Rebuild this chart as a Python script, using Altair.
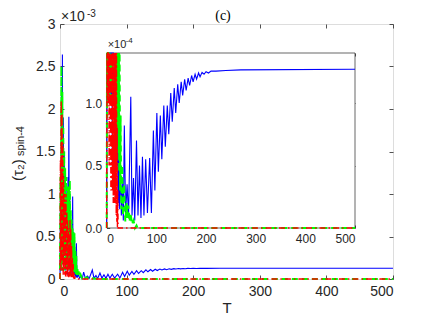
import altair as alt
import pandas as pd

# ---------------- data (values in units of 1e-4) ----------------
blue_T = [0, 0.8, 1.5, 2.3, 3.0, 3.6, 4.3, 5.0, 5.7, 6.4,
          7.1, 7.8, 8.5, 9.2, 9.9, 10.6, 11.3, 12.0, 12.6, 13.3,
          14.0, 14.7, 15.4, 16.1, 16.8, 17.5, 18.2, 19.0, 19.7, 20.4,
          21.1, 21.8, 22.5, 23.2, 24.0, 24.6, 25.5, 27.5, 29.5, 31.5,
          33.5, 35.5, 38, 41, 44, 48.5, 51, 54, 56.5, 60,
          63, 66, 69, 72, 75, 78.5, 82, 86.5, 90, 94,
          97, 101, 104, 108, 111, 115, 118, 122, 125, 129,
          132, 136, 139, 143, 146, 150, 153, 157, 160, 164,
          167, 171, 174, 178, 181, 185, 188, 192, 196, 200,
          205, 210, 220, 240, 270, 500]
blue_V = [0, 12, 1, 22, 3, 26.4, 2, 19, 1, 15,
          3, 13, 1, 11, 2, 9, 0.5, 12, 2, 19.1,
          1, 10, 1, 7, 0.5, 6, 1, 9.7, 0.5, 5.5,
          0.5, 4.5, 0.3, 3.0, 0.2, 4.2, 0.15, 0.5, 0.1, 0.36,
          0.06, 0.82, 0.1, 0.35, 0.1, 1.05, 0.1, 0.4, 0.06, 0.70,
          0.1, 0.5, 0.08, 0.57, 0.1, 0.55, 0.12, 0.56, 0.12, 0.78,
          0.30, 0.92, 0.45, 0.90, 0.55, 0.98, 0.65, 0.98, 0.75, 1.08,
          0.85, 1.12, 0.92, 1.15, 1.00, 1.17, 1.06, 1.19, 1.10, 1.20,
          1.14, 1.22, 1.17, 1.23, 1.19, 1.24, 1.21, 1.245, 1.23, 1.25,
          1.24, 1.255, 1.255, 1.26, 1.265, 1.27]

green_T = [0, 0.7, 1.4, 2.1, 2.8, 3.5, 4.2, 4.9, 5.6, 6.3,
           7.0, 7.7, 8.4, 9.1, 9.8, 10.5, 11.2, 11.9, 12.6, 13.3,
           14.0, 14.7, 15.4, 16.1, 16.8, 17.5, 18.2, 18.9, 19.6, 20.3,
           21.0, 21.7, 22.4, 23.1, 23.8, 24.5, 25.2, 26, 27, 28,
           29.5, 31, 33, 35, 37.5, 40, 42, 43.5, 46, 48,
           51, 54, 57, 60, 62, 500]
green_V = [0, 12, 1, 25, 2, 22, 1, 18, 2, 15,
           1, 13, 2, 12, 1, 10, 1.5, 11, 2, 10.5,
           1, 11.6, 2, 8.1, 1, 7, 1.5, 6, 0.8, 5.5,
           1.0, 5.4, 0.8, 3.5, 0.6, 2.7, 0.45, 1.4, 0.3, 0.9,
           0.15, 0.5, 0.1, 0.35, 0.05, 0.2, 0.08, 0.18, 0.05, 0.12,
           0.03, 0.06, 0, 0.02, 0, 0]

red_T = [0, 0.6, 1.2, 1.8, 2.4, 3.0, 3.6, 4.2, 4.8, 5.4,
         6.0, 6.6, 7.2, 7.8, 8.4, 9.0, 9.6, 10.2, 10.8, 11.4,
         12.0, 12.6, 13.2, 13.8, 14.4, 15.0, 15.6, 16.2, 16.8, 17.4,
         18.0, 18.6, 19.2, 19.8, 20.4, 21.0, 21.6, 22.2, 23, 500]
red_V = [0, 14, 1, 21, 2, 19.5, 1, 16, 0.5, 12,
         1, 10, 0.5, 9, 0.3, 10, 0.5, 8, 0.3, 7,
         0.3, 6, 0.2, 5, 0.3, 7, 0.2, 6, 0.2, 4,
         0.2, 2.5, 0.1, 1.8, 0.05, 0.8, 0, 0.3, 0, 0]

x_ticks = [0, 100, 200, 300, 400, 500]
main_y_ticks = [0, 5, 10, 15, 20, 25, 30]
inset_y_ticks = [0, 0.5, 1]

# ---------------- layout ----------------
W, H = 333, 255
IX0, IX1 = 46.7, 295
IY0, IY1 = 204, 29
FONT = "Liberation Sans"
AX = "#262626"

blue_df = pd.DataFrame({"T": blue_T, "v": blue_V})
green_df = pd.DataFrame({"T": green_T, "v": green_V})
red_df = pd.DataFrame({"T": red_T, "v": red_V})
dummy = pd.DataFrame({"T": [0], "v": [0]})
frame_df = pd.DataFrame({"x0": [0], "x1": [500], "y0": [0], "y1": [1.4]})


def MX():
    return alt.Scale(domain=[0, 500], nice=False, zero=False)


def MY():
    return alt.Scale(domain=[0, 30], nice=False)


def IXs():
    return alt.Scale(domain=[0, 500], range=[IX0, IX1], nice=False, zero=False)


def IYs():
    return alt.Scale(domain=[0, 1.4], range=[IY0, IY1], nice=False, clamp=True)


def tick_axis(orient, values, offset, size):
    return alt.Axis(orient=orient, values=values, offset=offset, labels=False,
                    domain=False, grid=False, ticks=True, tickSize=size,
                    tickColor=AX, tickWidth=0.8, title=None)


def line(df, xs, ys, color, width, dash=None, xa=None, ya=None):
    kw = dict(color=color, strokeWidth=width, clip=False)
    if dash is not None:
        kw["strokeDash"] = dash
    return alt.Chart(df).mark_line(**kw).encode(
        x=alt.X("T:Q", scale=xs, axis=xa),
        y=alt.Y("v:Q", scale=ys, axis=ya),
    )


GREEN_DASH = [6, 4]
RED_DASH = [6, 3, 1.5, 3]

main_x_axis = alt.Axis(orient="bottom", values=x_ticks, ticks=False, domain=False,
                       grid=False, labelFontSize=14, labelFont=FONT, labelColor=AX,
                       labelPadding=5, title="T", titleFontSize=15, titleFont=FONT,
                       titleFontWeight="normal", titleColor=AX, titlePadding=2)
main_y_axis = alt.Axis(orient="left", values=main_y_ticks, ticks=False, domain=False,
                       grid=False, labelFontSize=14, labelFont=FONT, labelColor=AX,
                       labelPadding=5, labelExpr="format(datum.value/10, '~g')",
                       title=None)

main_blue = line(blue_df, MX(), MY(), "#0000FF", 1.1, None, main_x_axis, main_y_axis)
main_green = line(green_df, MX(), MY(), "#00FF00", 2, GREEN_DASH)
main_red = line(red_df, MX(), MY(), "#FF0000", 1.4, RED_DASH)

main_ticks_bl = alt.Chart(dummy).mark_point(opacity=0).encode(
    x=alt.X("T:Q", scale=MX(), axis=tick_axis("bottom", x_ticks, -4, 4)),
    y=alt.Y("v:Q", scale=MY(), axis=tick_axis("left", main_y_ticks, -4, 4)),
)
main_ticks_tr = alt.Chart(dummy).mark_point(opacity=0).encode(
    x=alt.X("T:Q", scale=MX(), axis=tick_axis("top", x_ticks, -4, 4)),
    y=alt.Y("v:Q", scale=MY(), axis=tick_axis("right", main_y_ticks, -4, 4)),
)

inset_bg = alt.Chart(frame_df).mark_rect(fill="white", stroke=AX, strokeWidth=0.7).encode(
    x=alt.X("x0:Q", scale=IXs(), axis=None),
    x2="x1:Q",
    y=alt.Y("y0:Q", scale=IYs(), axis=None),
    y2="y1:Q",
)

inset_x_axis = alt.Axis(orient="bottom", values=x_ticks, offset=-(H - IY0), ticks=False,
                        domain=False, grid=False, labelFontSize=12, labelFont=FONT,
                        labelColor=AX, labelPadding=5, title=None)
inset_y_axis = alt.Axis(orient="left", values=inset_y_ticks, offset=-IX0, ticks=False,
                        domain=False, grid=False, labelFontSize=12, labelFont=FONT,
                        labelColor=AX, labelPadding=5, title=None)

inset_blue = line(blue_df, IXs(), IYs(), "#0000FF", 1.1, None, inset_x_axis, inset_y_axis)
inset_green = line(green_df, IXs(), IYs(), "#00FF00", 2, GREEN_DASH)
inset_red = line(red_df, IXs(), IYs(), "#FF0000", 1.4, RED_DASH)

inset_ticks_bl = alt.Chart(dummy).mark_point(opacity=0).encode(
    x=alt.X("T:Q", scale=IXs(), axis=tick_axis("bottom", x_ticks, -(H - IY0) - 3, 3)),
    y=alt.Y("v:Q", scale=IYs(), axis=tick_axis("left", inset_y_ticks, -IX0 - 3, 3)),
)
inset_ticks_tr = alt.Chart(dummy).mark_point(opacity=0).encode(
    x=alt.X("T:Q", scale=IXs(), axis=tick_axis("top", x_ticks, -(IY1 + 3), 3)),
    y=alt.Y("v:Q", scale=IYs(), axis=tick_axis("right", inset_y_ticks, -(W - IX1 + 3), 3)),
)


def label(text, x, y, size, angle=0, align="left", baseline="alphabetic",
          font=FONT, color=AX):
    kw = dict(align=align, baseline=baseline, fontSize=size, font=font, color=color,
              fontWeight="normal")
    if angle:
        kw["angle"] = angle
    return alt.Chart(pd.DataFrame({"t": [text]})).mark_text(**kw).encode(
        x=alt.value(x), y=alt.value(y), text="t:N")


txt_main_x10 = label("×10", 1, -3, 14)
txt_main_exp = label("-3", 27, -7.5, 10)
txt_inset_x10 = label("×10", IX0 + 1, IY1 - 5, 11)
txt_inset_exp = label("-4", IX0 + 19, IY1 - 10, 8)
ytitle_a = label("(τ₂)", -42, 146, 15, angle=270, align="center", baseline="middle")
ytitle_b = label("spin-4", -39, 117, 11, angle=270, align="center", baseline="middle")
title_c = label("(c)", 163, -8, 14, align="center", baseline="middle",
                font="Liberation Serif", color="black")

chart = alt.layer(
    main_blue, main_green, main_red, main_ticks_bl, main_ticks_tr,
    inset_bg, inset_blue, inset_green, inset_red, inset_ticks_bl, inset_ticks_tr,
    txt_main_x10, txt_main_exp, txt_inset_x10, txt_inset_exp, ytitle_a, ytitle_b,
    title_c,
).resolve_scale(x="independent", y="independent").properties(
    width=W, height=H,
    padding={"left": 52, "top": 16, "right": 35, "bottom": 37},
    autosize=alt.AutoSizeParams(type="none"),
).configure_view(stroke=AX, strokeWidth=0.7).configure(background="white")

chart.save("out.html", embed_options={"renderer": "svg", "actions": False})
